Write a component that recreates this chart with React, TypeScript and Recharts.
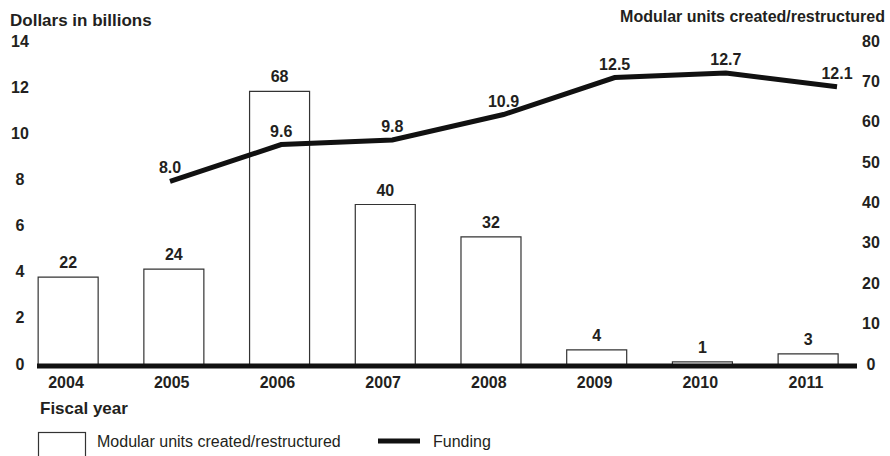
import { ComposedChart, Bar, Line, XAxis, YAxis, LabelList } from "recharts";

const years = [2004, 2005, 2006, 2007, 2008, 2009, 2010, 2011];
const unitsCreated = [22, 24, 68, 40, 32, 4, 1, 3];
const funding: (number | null)[] = [null, 8.0, 9.6, 9.8, 10.9, 12.5, 12.7, 12.1];
const leftTicks = [0, 2, 4, 6, 8, 10, 12, 14];
const rightTicks = [0, 10, 20, 30, 40, 50, 60, 70, 80];

const data = years.map((year, i) => ({
  year,
  units: unitsCreated[i],
  funding: funding[i],
}));

const FONT = "'Liberation Sans', Arial, Helvetica, sans-serif";
const INK = "#231f20";

const CenterTick = (props: any) => {
  const { x, y, payload, dx = 0, dy = 0 } = props;
  return (
    <text
      x={x + dx}
      y={y + dy}
      textAnchor="middle"
      dominantBaseline="central"
      fontFamily={FONT}
      fontWeight="bold"
      fontSize={16}
      fill={INK}
    >
      {payload.value}
    </text>
  );
};

const App = () => {
  return (
    <div style={{ position: "absolute", left: 0, top: 0, width: 890, height: 456 }}>
      <ComposedChart
        width={890}
        height={456}
        data={data}
        margin={{ top: 43, right: 32, bottom: 89, left: 36 }}
      >
        <XAxis
          xAxisId="bar"
          dataKey="year"
          type="number"
          domain={[2003.7067, 2011.4638]}
          allowDataOverflow
          ticks={years}
          height={1}
          tickSize={0}
          tickMargin={16}
          tickLine={false}
          axisLine={{ stroke: "#111", strokeWidth: 5 }}
          tick={<CenterTick dx={-2} />}
        />
        <XAxis
          xAxisId="line"
          dataKey="year"
          type="number"
          domain={[2003.8036, 2011.1797]}
          allowDataOverflow
          hide
        />
        <YAxis
          yAxisId="left"
          domain={[0, 14]}
          ticks={leftTicks}
          width={1}
          tickSize={0}
          tickMargin={17}
          tickLine={false}
          axisLine={false}
          tick={<CenterTick dy={-2} />}
        />
        <YAxis
          yAxisId="right"
          orientation="right"
          domain={[0, 80]}
          ticks={rightTicks}
          width={1}
          tickSize={0}
          tickMargin={14}
          tickLine={false}
          axisLine={false}
          tick={<CenterTick dy={-2} />}
        />
        <Bar
          xAxisId="bar"
          yAxisId="right"
          dataKey="units"
          barSize={60}
          fill="#fff"
          stroke="#333"
          strokeWidth={1.2}
          isAnimationActive={false}
        >
          <LabelList
            dataKey="units"
            position="top"
            offset={9}
            fill={INK}
            fontFamily={FONT}
            fontWeight="bold"
            fontSize={16}
          />
        </Bar>
        <Line
          xAxisId="line"
          yAxisId="left"
          dataKey="funding"
          type="linear"
          stroke="#111"
          strokeWidth={5}
          dot={false}
          isAnimationActive={false}
        >
          <LabelList
            dataKey="funding"
            position="top"
            offset={8}
            formatter={(v: any) => (v == null ? "" : Number(v).toFixed(1))}
            fill={INK}
            fontFamily={FONT}
            fontWeight="bold"
            fontSize={16}
          />
        </Line>
      </ComposedChart>
      <svg
        width={890}
        height={456}
        style={{ position: "absolute", left: 0, top: 0, pointerEvents: "none" }}
        fontFamily={FONT}
        fill={INK}
      >
        <text x={10} y={20} dominantBaseline="central" fontWeight="bold" fontSize={17}>
          Dollars in billions
        </text>
        <text x={885} y={16} textAnchor="end" dominantBaseline="central" fontWeight="bold" fontSize={16}>
          Modular units created/restructured
        </text>
        <text x={40} y={408} dominantBaseline="central" fontWeight="bold" fontSize={17}>
          Fiscal year
        </text>
        <rect x={38.5} y={432.5} width={47} height={30} fill="#fff" stroke="#333" strokeWidth={1.2} />
        <text x={97} y={441} dominantBaseline="central" fontSize={16}>
          Modular units created/restructured
        </text>
        <line x1={378} y1={441} x2={420} y2={441} stroke="#111" strokeWidth={5} />
        <text x={433} y={441} dominantBaseline="central" fontSize={16}>
          Funding
        </text>
      </svg>
    </div>
  );
};

export default App;
